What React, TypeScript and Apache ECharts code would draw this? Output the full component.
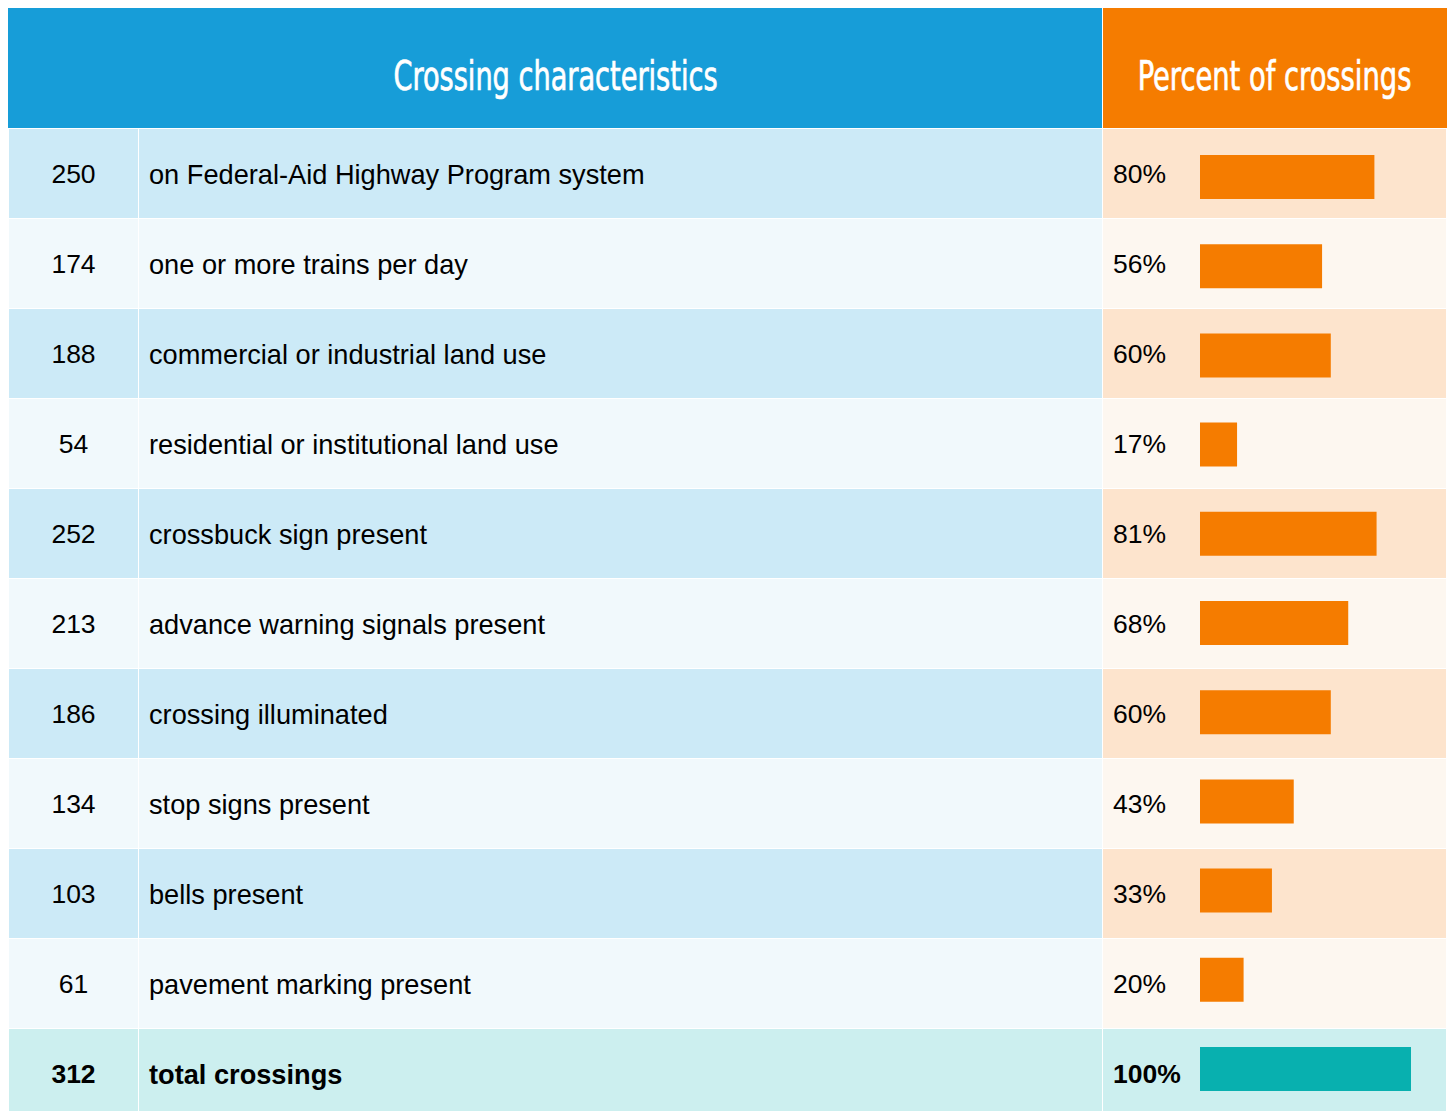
import React, { useEffect, useRef } from "react";
import * as echarts from "echarts";

const headerLeft = "Crossing characteristics";
const headerRight = "Percent of crossings";
const counts = [250, 174, 188, 54, 252, 213, 186, 134, 103, 61, 312];
const labels = [
  "on Federal-Aid Highway Program system",
  "one or more trains per day",
  "commercial or industrial land use",
  "residential or institutional land use",
  "crossbuck sign present",
  "advance warning signals present",
  "crossing illuminated",
  "stop signs present",
  "bells present",
  "pavement marking present",
  "total crossings",
];
const percents = [80, 56, 60, 17, 81, 68, 60, 43, 33, 20, 100];

const BLUE = "#179dd8";
const ORANGE = "#f57c00";
const TEAL = "#08b0af";
const FONT = '"Liberation Sans", Arial, sans-serif';
const FS = 26.5;
const FS_LABEL = 27.2;

export default function App() {
  const ref = useRef<HTMLDivElement>(null);
  useEffect(() => {
    if (!ref.current) return;
    const chart = echarts.init(ref.current, null, { renderer: "svg" });
    const n = counts.length;
    const last = n - 1;
    const rowTop = 129;
    const pitch = 90;

    const rects: any[] = [];
    rects.push({ type: "rect", shape: { x: 8, y: 8, width: 1094, height: 120 }, style: { fill: BLUE }, z: 0 });
    rects.push({ type: "rect", shape: { x: 1103, y: 8, width: 344, height: 120 }, style: { fill: ORANGE }, z: 0 });
    for (let i = 0; i < n; i++) {
      const y = rowTop + pitch * i;
      const h = i === last ? 1111 - y : 89;
      const odd = i % 2 === 0;
      const isTotal = i === last;
      const c12 = isTotal ? "#ccefef" : odd ? "#cceaf7" : "#f1f9fc";
      const c3 = isTotal ? "#ccefef" : odd ? "#fde4cd" : "#fdf7f0";
      rects.push({ type: "rect", shape: { x: 9, y, width: 129, height: h }, style: { fill: c12 }, z: 0 });
      rects.push({ type: "rect", shape: { x: 139, y, width: 963, height: h }, style: { fill: c12 }, z: 0 });
      rects.push({ type: "rect", shape: { x: 1103, y, width: 343, height: h }, style: { fill: c3 }, z: 0 });
    }
    const headerFont = '40px "DejaVu Sans Condensed", sans-serif';
    rects.push({
      type: "text", x: 555.5, y: 76, scaleX: 0.755, z: 1,
      style: { text: headerLeft, fill: "#ffffff", stroke: "#ffffff", lineWidth: 0.7, font: headerFont, textAlign: "center", textVerticalAlign: "middle" },
    });
    rects.push({
      type: "text", x: 1274.5, y: 76, scaleX: 0.76, z: 1,
      style: { text: headerRight, fill: "#ffffff", stroke: "#ffffff", lineWidth: 0.7, font: headerFont, textAlign: "center", textVerticalAlign: "middle" },
    });

    const richFor = (fs: number) => ({
      b: { fontWeight: "bold", fontSize: fs, fontFamily: FONT, color: "#000" },
    });
    const fmt = (v: string, idx: number) => (idx === last ? `{b|${v}}` : v);
    const textAxisBase = {
      type: "category",
      gridIndex: 0,
      inverse: true,
      position: "left",
      axisLine: { show: false },
      axisTick: { show: false },
      splitLine: { show: false },
      z: 10,
    };
    const barAxisBase = {
      type: "category",
      inverse: true,
      axisLine: { show: false },
      axisTick: { show: false },
      axisLabel: { show: false },
      splitLine: { show: false },
      data: labels,
    };

    const option: any = {
      animation: false,
      backgroundColor: "#ffffff",
      graphic: { elements: rects },
      grid: [
        { left: 1200, top: rowTop, width: 218, height: pitch * n },
        { left: 1200, top: 132.4, width: 218, height: 89.2 * n },
        { left: 1200, top: 132.4, width: 211, height: 89.2 * n },
      ],
      xAxis: [
        { type: "value", gridIndex: 0, show: false, min: 0, max: 100 },
        { type: "value", gridIndex: 1, show: false, min: 0, max: 100 },
        { type: "value", gridIndex: 2, show: false, min: 0, max: 100 },
      ],
      yAxis: [
        {
          ...textAxisBase,
          data: counts.map(String),
          axisLabel: { interval: 0, margin: 1200 - 73.5, align: "center", fontSize: FS, fontFamily: FONT, color: "#000", formatter: fmt, rich: richFor(FS) },
        },
        {
          ...textAxisBase,
          data: labels,
          axisLabel: { interval: 0, margin: 1200 - 149, align: "left", fontSize: FS_LABEL, fontFamily: FONT, color: "#000", formatter: fmt, rich: richFor(FS_LABEL) },
        },
        {
          ...textAxisBase,
          data: percents.map((p) => `${p}%`),
          axisLabel: { interval: 0, margin: 1200 - 1113, align: "left", fontSize: FS, fontFamily: FONT, color: "#000", formatter: fmt, rich: richFor(FS) },
        },
        { ...barAxisBase, gridIndex: 1 },
        { ...barAxisBase, gridIndex: 2 },
      ],
      series: [
        {
          type: "bar",
          xAxisIndex: 1,
          yAxisIndex: 3,
          barWidth: 44,
          z: 10,
          itemStyle: { color: ORANGE },
          data: percents.map((p, i) => (i === last ? "-" : p)),
        },
        {
          type: "bar",
          xAxisIndex: 2,
          yAxisIndex: 4,
          barWidth: 44,
          z: 10,
          itemStyle: { color: TEAL },
          data: percents.map((p, i) => (i === last ? p : "-")),
        },
      ],
    };
    chart.setOption(option);
    return () => chart.dispose();
  }, []);
  return (
    <div style={{ position: "absolute", left: 0, top: 0, width: 1448, height: 1111, overflow: "hidden" }}>
      <div ref={ref} style={{ width: 1448, height: 1200 }} />
    </div>
  );
}
